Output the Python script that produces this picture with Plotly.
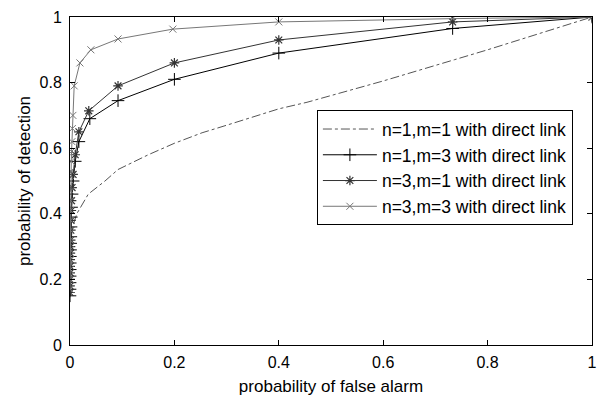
import plotly.graph_objects as go

# n=1, m=1 (dash-dot, no markers)
pf_11 = [0.0, 0.0005, 0.002, 0.005, 0.013, 0.035, 0.067, 0.092, 0.15, 0.2, 0.253, 0.3, 0.4, 0.454, 0.5, 0.6, 0.737, 0.8, 0.9, 1.0]
pd_11 = [0.15, 0.25, 0.32, 0.36, 0.40, 0.46, 0.50, 0.535, 0.58, 0.615, 0.647, 0.67, 0.72, 0.74, 0.76, 0.805, 0.87, 0.9, 0.95, 1.0]

# n=1, m=3 (+ markers)
pf_13 = [0.0, 0.0001, 0.0002, 0.0003, 0.0004, 0.0005, 0.0007, 0.001, 0.0013, 0.0016, 0.002, 0.0025, 0.003, 0.004, 0.006, 0.01, 0.017, 0.038, 0.092, 0.2, 0.4, 0.733, 1.0]
pd_13 = [0.15, 0.17, 0.19, 0.21, 0.23, 0.25, 0.27, 0.29, 0.31, 0.33, 0.36, 0.39, 0.42, 0.46, 0.50, 0.56, 0.62, 0.69, 0.745, 0.81, 0.89, 0.965, 1.0]

# n=3, m=1 (* markers)
pf_31 = [0.0, 0.0001, 0.0002, 0.0003, 0.0004, 0.0005, 0.0007, 0.001, 0.0013, 0.0016, 0.002, 0.0025, 0.003, 0.004, 0.006, 0.01, 0.017, 0.036, 0.092, 0.2, 0.4, 0.733, 1.0]
pd_31 = [0.16, 0.18, 0.20, 0.22, 0.24, 0.26, 0.28, 0.30, 0.32, 0.35, 0.38, 0.41, 0.44, 0.48, 0.52, 0.58, 0.65, 0.714, 0.79, 0.86, 0.93, 0.985, 1.0]

# n=3, m=3 (x markers)
pf_33 = [0.0, 0.0001, 0.0002, 0.0003, 0.0004, 0.0005, 0.0006, 0.0008, 0.001, 0.0012, 0.0014, 0.0017, 0.002, 0.0024, 0.003, 0.0037, 0.0045, 0.0055, 0.008, 0.019, 0.04, 0.092, 0.197, 0.4, 0.733, 1.0]
pd_33 = [0.17, 0.20, 0.23, 0.26, 0.29, 0.32, 0.35, 0.38, 0.41, 0.44, 0.47, 0.50, 0.53, 0.56, 0.59, 0.62, 0.66, 0.70, 0.79, 0.86, 0.90, 0.933, 0.963, 0.985, 0.995, 1.0]

names = ["n=1,m=1 with direct link", "n=1,m=3 with direct link",
         "n=3,m=1 with direct link", "n=3,m=3 with direct link"]

FONT = "Liberation Sans, Arial, sans-serif"

fig = go.Figure()
fig.add_trace(go.Scatter(x=pf_11, y=pd_11, mode="lines", name=names[0],
                         line=dict(color="#555555", width=1, dash="dashdot")))
fig.add_trace(go.Scatter(x=pf_13, y=pd_13, mode="lines+markers", name=names[1],
                         line=dict(color="#000000", width=1),
                         marker=dict(symbol="cross-thin-open", size=9,
                                     line=dict(color="#000000", width=1))))
fig.add_trace(go.Scatter(x=pf_31, y=pd_31, mode="lines+markers", name=names[2],
                         line=dict(color="#333333", width=1),
                         marker=dict(symbol="asterisk-open", size=8,
                                     line=dict(color="#111111", width=1.2))))
fig.add_trace(go.Scatter(x=pf_33, y=pd_33, mode="lines+markers", name=names[3],
                         line=dict(color="#777777", width=1),
                         marker=dict(symbol="x-thin-open", size=7,
                                     line=dict(color="#666666", width=1))))

axis_common = dict(range=[0, 1], tickvals=[0, 0.2, 0.4, 0.6, 0.8, 1],
                   ticks="inside", ticklen=5, tickcolor="black",
                   showline=True, linecolor="black", linewidth=1,
                   mirror="ticks", showgrid=False, zeroline=False,
                   automargin=False, ticklabeloverflow="allow",
                   tickfont=dict(family=FONT, size=16, color="black"))

fig.update_xaxes(**axis_common, ticklabelstandoff=3,
                 title=dict(text="probability of false alarm", standoff=9,
                            font=dict(family=FONT, size=17, color="black")))
fig.update_yaxes(**axis_common, ticklabelstandoff=4,
                 title=dict(text="probability of detection", standoff=4,
                            font=dict(family=FONT, size=17, color="black")))

fig.update_layout(
    width=597, height=398,
    margin=dict(l=70, r=5, t=17, b=53),
    paper_bgcolor="white", plot_bgcolor="white",
    showlegend=True,
    legend=dict(x=0.473, y=0.716, xanchor="left", yanchor="top",
                bordercolor="black", borderwidth=1, bgcolor="white",
                font=dict(family=FONT, size=17.5, color="black"),
                tracegroupgap=0, itemwidth=54),
)

fig.write_html("out.html", config={"displayModeBar": False},
               post_script="document.body.style.margin='0';document.body.style.overflow='hidden';")
